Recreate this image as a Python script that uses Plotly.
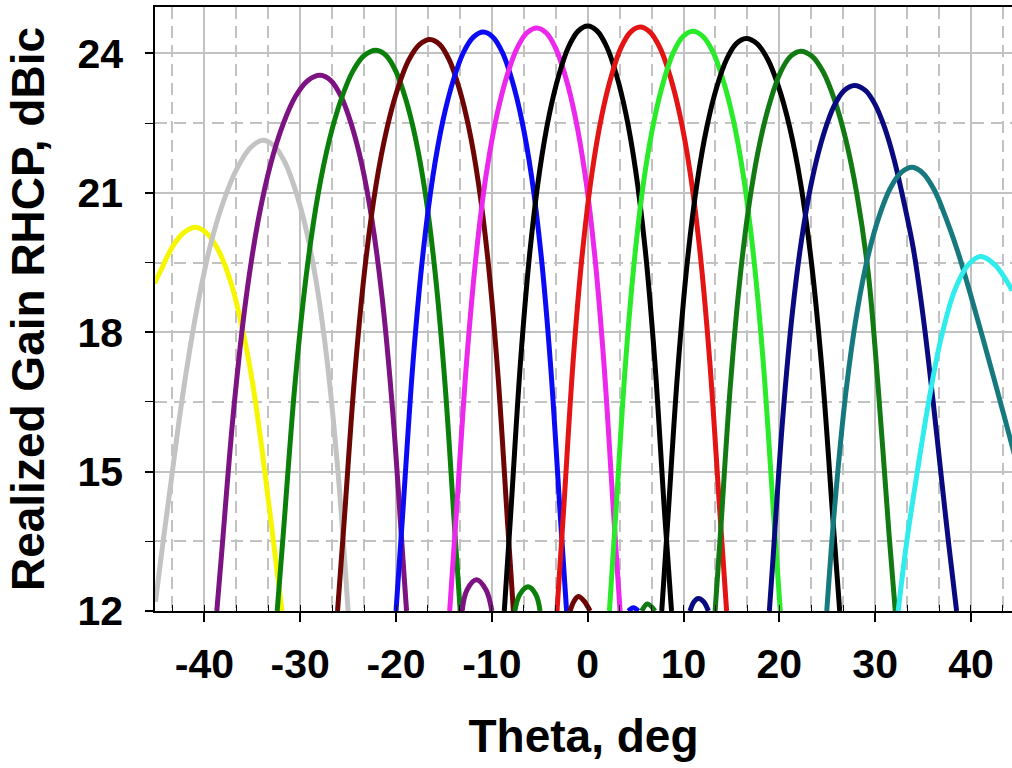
import plotly.graph_objects as go

# ---------------- data ----------------
x_tick_values = [-40, -30, -20, -10, 0, 10, 20, 30, 40]
x_tick_labels = ["-40", "-30", "-20", "-10", "0", "10", "20", "30", "40"]
y_tick_values = [12, 15, 18, 21, 24]
y_tick_labels = ["12", "15", "18", "21", "24"]

yellow_theta = [-45.2, -44.5, -43.3, -42.1, -40.9, -39.7, -38.5, -37.2, -36.0, -35.0, -34.0, -33.0, -31.9]
yellow_gain = [19.05, 19.35, 19.85, 20.15, 20.26, 20.12, 19.75, 19.05, 18.05, 16.95, 15.5, 13.85, 12.0]

gray_theta = [-45.1, -44.3, -43.4, -42.5, -41.5, -40.5, -39.4, -38.0, -36.6, -35.2, -33.9,
              -32.78, -31.65, -30.53, -29.4, -28.28, -27.16, -26.03, -25.0]
gray_gain = [12.2, 13.5, 14.9, 16.3, 17.65, 18.8, 19.85, 20.82, 21.52, 21.97, 22.13,
             22.02, 21.68, 21.08, 20.23, 19.03, 17.33, 14.93, 12.0]

purple_theta = [-38.7, -38.24, -36.94, -35.65, -34.36, -33.07, -31.78, -30.48, -29.19, -27.9,
                -26.82, -25.75, -24.67, -23.59, -22.52, -21.44, -20.36, -19.28, -18.9]
purple_gain = [12.0, 13.13, 16.33, 18.73, 20.43, 21.63, 22.48, 23.08, 23.42, 23.53,
               23.42, 23.08, 22.48, 21.63, 20.43, 18.73, 16.33, 13.13, 12.0]

green_theta = [-32.4, -31.76, -30.55, -29.34, -28.13, -26.92, -25.71, -24.5, -23.29, -22.08,
               -21.05, -20.02, -18.99, -17.96, -16.93, -15.91, -14.88, -13.85, -13.3]
green_gain = [12.0, 13.67, 16.87, 19.27, 20.97, 22.17, 23.02, 23.62, 23.96, 24.07,
              23.96, 23.62, 23.02, 22.17, 20.97, 19.27, 16.87, 13.67, 12.0]

maroon_theta = [-26.1, -25.42, -24.3, -23.18, -22.06, -20.93, -19.81, -18.69, -17.56, -16.44,
                -15.43, -14.42, -13.41, -12.4, -11.39, -10.38, -9.37, -8.36, -7.75]
maroon_gain = [12.0, 13.9, 17.1, 19.5, 21.2, 22.4, 23.25, 23.85, 24.19, 24.3,
               24.19, 23.85, 23.25, 22.4, 21.2, 19.5, 17.1, 13.9, 12.0]

blue_theta = [-20.0, -19.31, -18.26, -17.2, -16.15, -15.1, -14.04, -12.99, -11.93, -10.88,
              -9.88, -8.87, -7.87, -6.87, -5.86, -4.86, -3.86, -2.86, -2.2]
blue_gain = [12.0, 14.06, 17.26, 19.66, 21.36, 22.56, 23.41, 24.01, 24.35, 24.46,
             24.35, 24.01, 23.41, 22.56, 21.36, 19.66, 17.26, 14.06, 12.0]

magenta_theta = [-14.4, -13.69, -12.64, -11.59, -10.55, -9.5, -8.45, -7.4, -6.36, -5.31,
                 -4.31, -3.31, -2.31, -1.31, -0.31, 0.69, 1.69, 2.69, 3.38]
magenta_gain = [12.0, 14.15, 17.35, 19.75, 21.45, 22.65, 23.5, 24.1, 24.44, 24.55,
                24.44, 24.1, 23.5, 22.65, 21.45, 19.75, 17.35, 14.15, 12.0]

black_theta = [-8.7, -8.0, -7.0, -6.0, -5.0, -4.0, -3.0, -2.0, -1.0, 0.0,
               1.0, 2.0, 3.0, 4.0, 5.0, 6.0, 7.0, 8.0, 8.75]
black_gain = [12.0, 14.19, 17.39, 19.79, 21.49, 22.69, 23.54, 24.14, 24.48, 24.59,
              24.48, 24.14, 23.54, 22.69, 21.49, 19.79, 17.39, 14.19, 12.0]

red_theta = [-3.2, -2.51, -1.52, -0.52, 0.48, 1.48, 2.48, 3.47, 4.47, 5.47,
             6.51, 7.55, 8.59, 9.63, 10.67, 11.7, 12.74, 13.78, 14.5]
red_gain = [12.0, 14.17, 17.37, 19.77, 21.47, 22.67, 23.52, 24.12, 24.46, 24.57,
            24.46, 24.12, 23.52, 22.67, 21.47, 19.77, 17.37, 14.17, 12.0]

lime_theta = [2.27, 2.93, 3.93, 4.94, 5.94, 6.95, 7.96, 8.96, 9.97, 10.97,
              12.02, 13.08, 14.13, 15.19, 16.24, 17.29, 18.35, 19.4, 20.1]
lime_gain = [12.0, 14.08, 17.28, 19.68, 21.38, 22.58, 23.43, 24.03, 24.37, 24.48,
             24.37, 24.03, 23.43, 22.58, 21.38, 19.68, 17.28, 14.08, 12.0]

black2_theta = [7.73, 8.35, 9.38, 10.4, 11.42, 12.44, 13.46, 14.49, 15.51, 16.53,
                17.67, 18.8, 19.94, 21.07, 22.21, 23.34, 24.48, 25.61, 26.3]
black2_gain = [12.0, 13.92, 17.12, 19.52, 21.22, 22.42, 23.27, 23.87, 24.21, 24.32,
               24.21, 23.87, 23.27, 22.42, 21.22, 19.52, 17.12, 13.92, 12.0]

darkgreen_theta = [13.3, 13.85, 14.89, 15.94, 16.99, 18.04, 19.09, 20.13, 21.18, 22.23,
                   23.41, 24.58, 25.76, 26.93, 28.11, 29.29, 30.3, 31.45, 32.1]
darkgreen_gain = [12.0, 13.65, 16.85, 19.25, 20.95, 22.15, 23.0, 23.6, 23.94, 24.05,
                  23.94, 23.6, 23.0, 22.15, 20.95, 19.25, 16.85, 13.65, 12.0]

navy_theta = [18.96, 19.27, 20.34, 21.41, 22.48, 23.55, 24.62, 25.69, 26.76, 27.83,
              29.0, 30.0, 31.0, 32.0, 33.0, 34.0, 35.0, 36.0, 37.0, 37.7, 38.5]
navy_gain = [12.0, 12.91, 16.11, 18.51, 20.21, 21.41, 22.26, 22.86, 23.2, 23.31,
             23.2, 22.9, 22.4, 21.7, 20.8, 19.78, 18.35, 16.6, 14.7, 13.4, 12.0]

teal_theta = [24.95, 25.82, 26.97, 28.12, 29.27, 30.42, 31.58, 32.73, 33.88,
              35.0, 36.2, 37.4, 38.6, 39.9, 41.2, 42.6, 44.3, 45.0]
teal_gain = [12.0, 14.35, 16.75, 18.45, 19.65, 20.5, 21.1, 21.44, 21.55,
             21.42, 21.05, 20.45, 19.75, 18.85, 17.9, 16.85, 15.55, 15.0]

cyan_theta = [32.4, 33.3, 34.4, 35.5, 36.8, 38.3, 39.7, 41.0, 42.5, 44.3]
cyan_gain = [12.0, 13.5, 15.0, 16.4, 17.8, 18.9, 19.45, 19.63, 19.45, 18.9]

# small side lobes just above the 12 dBic floor
purple_lobe_theta = [-13.1, -12.6, -11.6, -10.6, -10.0]
purple_lobe_gain = [12.0, 12.45, 12.67, 12.45, 12.0]
green_lobe_theta = [-7.6, -7.1, -6.2, -5.4, -4.97]
green_lobe_gain = [12.0, 12.35, 12.52, 12.35, 12.0]
maroon_lobe_theta = [-1.84, -1.4, -0.97, -0.4, 0.25]
maroon_lobe_gain = [12.0, 12.22, 12.31, 12.22, 12.0]
blue_lobe_theta = [4.25, 4.77, 5.3]
blue_lobe_gain = [12.0, 12.07, 12.0]
darkgreen_lobe_theta = [5.64, 6.23, 7.03]
darkgreen_lobe_gain = [12.0, 12.15, 12.0]
navy_lobe_theta = [10.68, 11.1, 11.55, 12.1, 12.6]
navy_lobe_gain = [12.0, 12.2, 12.27, 12.2, 12.0]

beams = [
    ("yellow", yellow_theta, yellow_gain, "#f6f600"),
    ("gray", gray_theta, gray_gain, "#c3c3c3"),
    ("purple", purple_theta, purple_gain, "#7d1283"),
    ("green", green_theta, green_gain, "#0a800a"),
    ("maroon", maroon_theta, maroon_gain, "#6e0505"),
    ("blue", blue_theta, blue_gain, "#0a0af5"),
    ("magenta", magenta_theta, magenta_gain, "#ec28ec"),
    ("black", black_theta, black_gain, "#000000"),
    ("red", red_theta, red_gain, "#e41414"),
    ("lime", lime_theta, lime_gain, "#2aeb2a"),
    ("black2", black2_theta, black2_gain, "#000000"),
    ("darkgreen", darkgreen_theta, darkgreen_gain, "#127a12"),
    ("navy", navy_theta, navy_gain, "#0a0a80"),
    ("teal", teal_theta, teal_gain, "#16797e"),
    ("cyan", cyan_theta, cyan_gain, "#30ecec"),
    ("purple lobe", purple_lobe_theta, purple_lobe_gain, "#7d1283"),
    ("green lobe", green_lobe_theta, green_lobe_gain, "#0a800a"),
    ("maroon lobe", maroon_lobe_theta, maroon_lobe_gain, "#6e0505"),
    ("blue lobe", blue_lobe_theta, blue_lobe_gain, "#0a0af5"),
    ("darkgreen lobe", darkgreen_lobe_theta, darkgreen_lobe_gain, "#127a12"),
    ("navy lobe", navy_lobe_theta, navy_lobe_gain, "#0a0a80"),
]

# ---------------- figure ----------------
fig = go.Figure()
for name, th, g, col in beams:
    fig.add_trace(go.Scatter(
        x=th, y=g, mode="lines", name=name,
        line=dict(color=col, width=5, shape="spline", smoothing=1.0),
        showlegend=False, hoverinfo="x+y",
    ))

FONT = "Liberation Sans, Arial, sans-serif"
grid_col = "#c2c2c2"

fig.update_layout(
    width=1012, height=768,
    margin=dict(l=155, r=0, t=7, b=157, pad=0),
    paper_bgcolor="white", plot_bgcolor="white",
    showlegend=False,
    font=dict(family=FONT, color="black"),
)

fig.update_xaxes(
    range=[-45.15, 44.28],
    tickmode="array", tickvals=x_tick_values, ticktext=x_tick_labels,
    ticks="outside", ticklen=9, tickwidth=1.5, tickcolor="black",
    ticklabelstandoff=7,
    tickfont=dict(family=FONT, size=41, color="black", weight="bold"),
    showline=True, linecolor="black", linewidth=1.5, mirror=True,
    showgrid=True, gridcolor=grid_col, gridwidth=1.5, zeroline=False,
    minor=dict(dtick=10 / 3, tick0=0, showgrid=True, gridcolor=grid_col, gridwidth=1.5,
               griddash="12px,7px", ticks="inside", ticklen=6, tickcolor="black", tickwidth=1.2),
    title=dict(text="Theta, deg", standoff=34,
               font=dict(family=FONT, size=46, color="black", weight="bold")),
)

fig.update_yaxes(
    range=[12, 25],
    tickmode="array", tickvals=y_tick_values, ticktext=y_tick_labels,
    ticks="outside", ticklen=8, tickwidth=1.5, tickcolor="black",
    ticklabelstandoff=14,
    tickfont=dict(family=FONT, size=41, color="black", weight="bold"),
    showline=True, linecolor="black", linewidth=1.5, mirror=False,
    showgrid=True, gridcolor=grid_col, gridwidth=1.5, zeroline=False,
    minor=dict(dtick=1.5, tick0=12, showgrid=True, gridcolor=grid_col, gridwidth=1.5,
               griddash="12px,7px", ticks="outside", ticklen=8, tickcolor="black", tickwidth=1.2),
    title=dict(text="Realized Gain RHCP, dBic", standoff=18,
               font=dict(family=FONT, size=46, color="black", weight="bold")),
)

fig.write_html("out.html", config={"displayModeBar": False},
               post_script="document.body.style.margin='0';")
